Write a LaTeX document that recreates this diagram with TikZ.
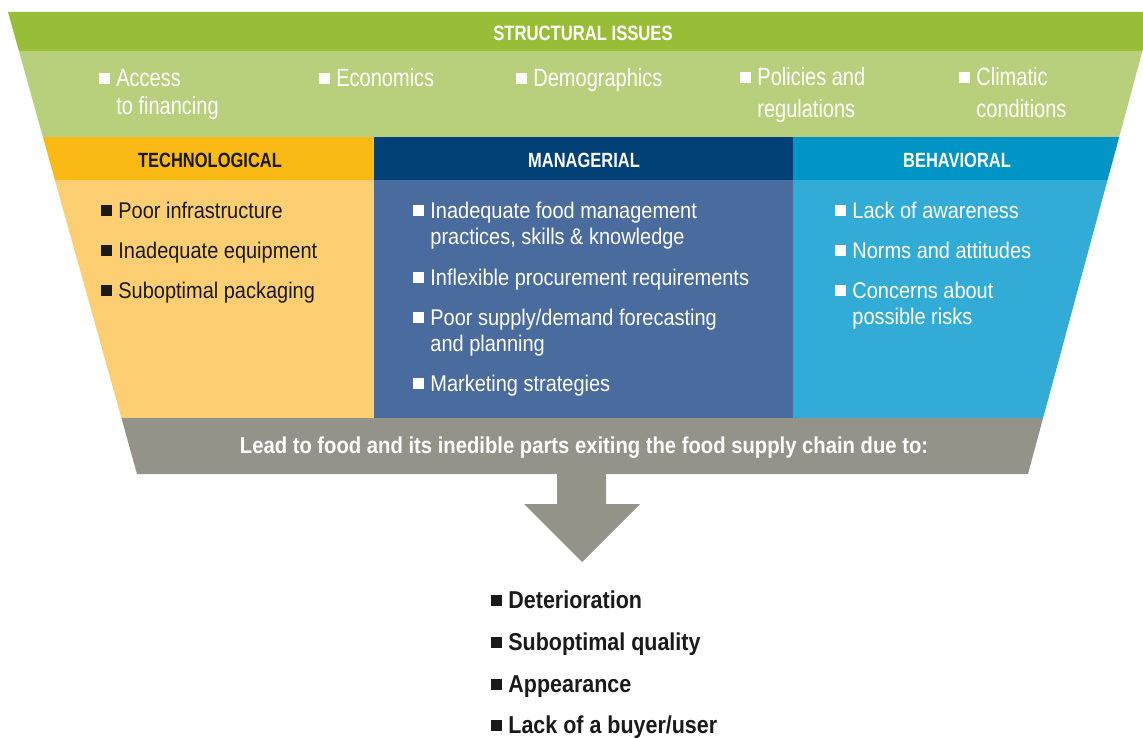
\documentclass[tikz,border=0pt]{standalone}
\usepackage{fontspec}
\setmainfont[FakeStretch=0.88]{Liberation Sans}
\newfontfamily\thinfont[FakeStretch=0.8]{Liberation Sans}
\newfontfamily\capsfont[FakeStretch=0.8]{Liberation Sans}
\definecolor{gdark}{HTML}{98BD36}
\definecolor{glight}{HTML}{B8CF7B}
\definecolor{techhd}{HTML}{FBB916}
\definecolor{techbd}{HTML}{FECE72}
\definecolor{mgrhd}{HTML}{014176}
\definecolor{mgrbd}{HTML}{4A6B9D}
\definecolor{behhd}{HTML}{0094C7}
\definecolor{behbd}{HTML}{32ACD6}
\definecolor{leadgray}{HTML}{94938A}
\definecolor{txtdark}{HTML}{1A1A1A}
\newcommand\sqb{\raisebox{1pt}{\rule{5.5pt}{5.5pt}}\kern3pt}
\newcommand\bitem[1]{\sqb\begin{tabular}[t]{@{}l@{}}#1\end{tabular}}
\begin{document}
\begin{tikzpicture}[x=0.5pt,y=-0.5pt,
  hdr/.style={anchor=base, inner sep=0pt, font=\capsfont\bfseries\fontsize{10.3}{12}\selectfont},
  cause/.style={anchor=base west, inner sep=0pt, font=\fontsize{11.35}{13.4}\selectfont},
  issue/.style={anchor=base west, inner sep=0pt, text=white, font=\thinfont\fontsize{12.5}{16}\selectfont},
  result/.style={anchor=base west, inner sep=0pt, text=txtdark, font=\bfseries\fontsize{12.2}{14}\selectfont}]
\useasboundingbox (0,0) rectangle (1143,738);
\clip (0,0) rectangle (1143,738);
% funnel bands
\fill[gdark] (8,12) -- (1153,12) -- (1142.4,51) -- (18.9,51) -- cycle;
\fill[glight] (18.9,51) -- (1142.4,51) -- (1119.2,137) -- (42.9,137) -- cycle;
\fill[techhd] (42.9,137) -- (374,137) -- (374,180) -- (54.9,180) -- cycle;
\fill[mgrhd] (374,137) rectangle (793,180);
\fill[behhd] (793,137) -- (1119.2,137) -- (1107.5,180) -- (793,180) -- cycle;
\fill[techbd] (54.9,180) -- (374,180) -- (374,418) -- (121.4,418) -- cycle;
\fill[mgrbd] (374,180) rectangle (793,418);
\fill[behbd] (793,180) -- (1107.5,180) -- (1043.1,418) -- (793,418) -- cycle;
\fill[leadgray] (121.4,418) -- (1043.1,418) -- (1028,474) -- (137,474) -- cycle;
\fill[leadgray] (557,474) -- (606,474) -- (606,504) -- (640,504) -- (582,562) -- (524,504) -- (557,504) -- cycle;
% headings
\node[hdr, text=white, font=\capsfont\bfseries\fontsize{10.4}{12}\selectfont] (struct) at (583,41){STRUCTURAL ISSUES};
\node[hdr, text=txtdark] (tech) at (210,167){TECHNOLOGICAL};
\node[hdr, text=white] (mgr) at (584,167){MANAGERIAL};
\node[hdr, text=white] (beh) at (957,167){BEHAVIORAL};
% structural issues
\node[issue] (iss1) at (99,86){\bitem{Access\\[-2pt]to financing}};
\node[issue] (iss2) at (319,86){\bitem{Economics}};
\node[issue] (iss3) at (516,86){\bitem{Demographics}};
\node[issue] (iss4) at (740,85){\bitem{Policies and\\regulations}};
\node[issue] (iss5) at (959,85){\bitem{Climatic\\conditions}};
% technological
\node[cause, text=txtdark] (tec1) at (101,218){\bitem{Poor infrastructure}};
\node[cause, text=txtdark] (tec2) at (101,258){\bitem{Inadequate equipment}};
\node[cause, text=txtdark] (tec3) at (101,298){\bitem{Suboptimal packaging}};
% managerial
\node[cause, text=white] (man1) at (413,218){\bitem{Inadequate food management\\practices, skills \& knowledge}};
\node[cause, text=white] (man2) at (413,285){\bitem{Inflexible procurement requirements}};
\node[cause, text=white] (man3) at (413,325){\bitem{Poor supply/demand forecasting\\and planning}};
\node[cause, text=white] (man4) at (413,391){\bitem{Marketing strategies}};
% behavioral
\node[cause, text=white] (bhv1) at (835,218){\bitem{Lack of awareness}};
\node[cause, text=white] (bhv2) at (835,258){\bitem{Norms and attitudes}};
\node[cause, text=white] (bhv3) at (835,298){\bitem{Concerns about\\possible risks}};
% lead text
\node[hdr, text=white, font=\bfseries\fontsize{11.5}{13}\selectfont] (lead) at (584,453){Lead to food and its inedible parts exiting the food supply chain due to:};
% results
\node[result] (res1) at (491,608){\sqb Deterioration};
\node[result] (res2) at (491,650){\sqb Suboptimal quality};
\node[result] (res3) at (491,692){\sqb Appearance};
\node[result] (res4) at (491,733){\sqb Lack of a buyer/user};
\end{tikzpicture}
\end{document}
